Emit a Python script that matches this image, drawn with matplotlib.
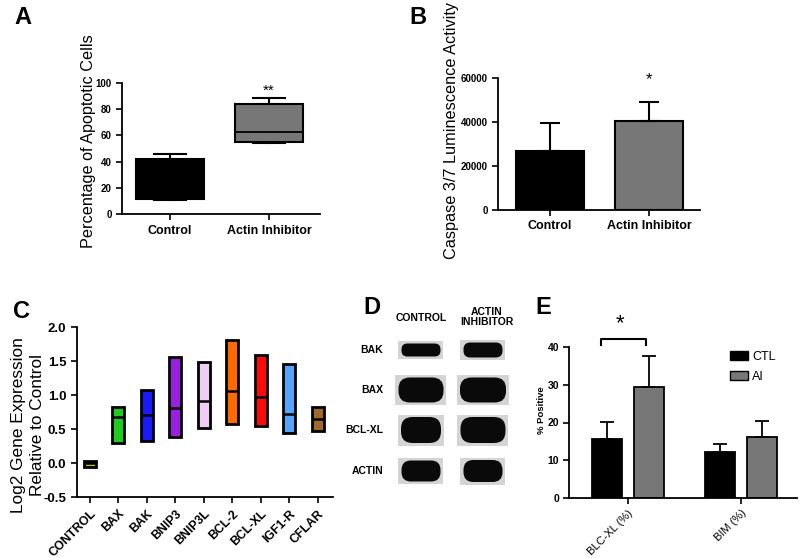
import matplotlib
matplotlib.use("Agg")
import matplotlib.pyplot as plt
from matplotlib.patches import Rectangle, FancyBboxPatch, Patch
import numpy as np

plt.rcParams['font.family'] = ['Liberation Sans', 'DejaVu Sans']

# ---------------- Data ----------------
# Panel A: box plot (percentage apoptotic cells)
a_groups = ["Control", "Actin Inhibitor"]
a_whislo = [10.8, 54.4]
a_q1 = [11.6, 55.2]
a_med = [20.0, 62.8]
a_q3 = [42.0, 83.6]
a_whishi = [45.6, 88.1]
a_colors = ["#000000", "#777777"]

# Panel B: caspase 3/7 activity
b_groups = ["Control", "Actin Inhibitor"]
b_means = [27000, 40700]
b_err = [12800, 8600]
b_colors = ["#000000", "#777777"]

# Panel C: floating bars (min, median, max)
c_genes = ["CONTROL", "BAX", "BAK", "BNIP3", "BNIP3L", "BCL-2", "BCL-XL", "IGF1-R", "CFLAR"]
c_min = [-0.05, 0.29, 0.33, 0.38, 0.51, 0.58, 0.55, 0.45, 0.47]
c_med = [0.00, 0.68, 0.71, 0.81, 0.91, 1.06, 0.97, 0.73, 0.65]
c_max = [0.04, 0.82, 1.08, 1.56, 1.49, 1.81, 1.59, 1.45, 0.82]
c_colors = ["#b8b435", "#1ecb1e", "#1a1aff", "#9a1fe0", "#f0cdf4",
            "#ff6a00", "#ff0a0a", "#55a5ff", "#a0692e"]

# Panel D: western blot band sizes (width, height in px) per protein row
d_proteins = ["BAK", "BAX", "BCL-XL", "ACTIN"]
d_lanes = ["CONTROL", "ACTIN\nINHIBITOR"]
d_ctl_w = [45, 51, 46, 45]
d_ctl_h = [18, 30, 31, 26]
d_ai_w = [45, 52, 51, 45]
d_ai_h = [20, 30, 31, 27]

# Panel E: % positive
e_groups = ["BLC-XL (%)", "BIM (%)"]
e_ctl = [15.5, 12.2]
e_ctl_err = [4.7, 2.1]
e_ai = [29.4, 16.1]
e_ai_err = [8.4, 4.4]

# ---------------- Figure ----------------
W, H = 800, 558
fig = plt.figure(figsize=(8, 5.58), dpi=100)

def fx(x):
    return x / W

def fy(y):
    return 1 - y / H

def add_ax(x0, y0, x1, y1):
    return fig.add_axes([fx(x0), fy(y1), (x1 - x0) / W, (y1 - y0) / H])

def style(ax, lw=1.3):
    for s in ["top", "right"]:
        ax.spines[s].set_visible(False)
    for s in ["left", "bottom"]:
        ax.spines[s].set_linewidth(lw)
    ax.tick_params(direction="out", length=4, width=1.2)

# ---- Panel A ----
axA = add_ax(122, 82.7, 320, 214.3)
stats = []
for i in range(len(a_groups)):
    stats.append(dict(med=a_med[i], q1=a_q1[i], q3=a_q3[i],
                      whislo=a_whislo[i], whishi=a_whishi[i], fliers=[]))
bp = axA.bxp(stats, positions=range(len(a_groups)), widths=0.68,
             capwidths=0.32, patch_artist=True, showfliers=False,
             boxprops=dict(linewidth=1.5, edgecolor="black"),
             medianprops=dict(color="black", linewidth=1.3),
             whiskerprops=dict(linewidth=1.5), capprops=dict(linewidth=1.5))
for patch, c in zip(bp["boxes"], a_colors):
    patch.set_facecolor(c)
axA.set_xlim(-0.485, 1.515)
axA.set_ylim(0, 100)
axA.set_yticks([0, 20, 40, 60, 80, 100])
axA.set_xticks(range(len(a_groups)))
axA.set_xticklabels(a_groups, fontsize=9, fontweight="bold")
for t in axA.get_yticklabels():
    t.set_fontsize(7); t.set_fontweight("bold")
style(axA)
axA.text(1, 94, "**", ha="center", va="center", fontsize=11, clip_on=False)
fig.text(fx(89), fy(141), "Percentage of Apoptotic Cells", rotation=90,
         ha="center", va="center", fontsize=11.7)

# ---- Panel B ----
axB = add_ax(498, 78.3, 700, 210)
xb = np.arange(len(b_groups))
axB.bar(xb, b_means, width=0.68, color=b_colors, edgecolor="black", linewidth=1.5,
        yerr=[[0, 0], b_err], error_kw=dict(capsize=7.5, elinewidth=1.5,
                                           capthick=1.5, ecolor="black"))
axB.set_xlim(-0.525, 1.515)
axB.set_ylim(0, 60000)
axB.set_yticks([0, 20000, 40000, 60000])
axB.set_xticks(xb)
axB.set_xticklabels(b_groups, fontsize=9, fontweight="bold")
for t in axB.get_yticklabels():
    t.set_fontsize(7); t.set_fontweight("bold")
style(axB)
axB.text(1, 59300, "*", ha="center", va="center", fontsize=12, clip_on=False)
fig.text(fx(452), fy(131), "Caspase 3/7 Luminescence Activity", rotation=90,
         ha="center", va="center", fontsize=11.7)

# ---- Panel C ----
axC = add_ax(76.7, 327, 333, 497.3)
xc = np.arange(len(c_genes))
c_min_a = np.array(c_min); c_max_a = np.array(c_max)
axC.bar(xc, c_max_a - c_min_a, bottom=c_min_a, width=0.42, color=c_colors,
        edgecolor="black", linewidth=2)
axC.hlines(c_med, xc - 0.21, xc + 0.21, colors="black", linewidth=1.8)
axC.set_xlim(-0.46, 8.53)
axC.set_ylim(-0.5, 2.0)
axC.set_yticks([-0.5, 0.0, 0.5, 1.0, 1.5, 2.0])
axC.set_yticklabels(["-0.5", "0.0", "0.5", "1.0", "1.5", "2.0"],
                    fontsize=9.5, fontweight="bold")
axC.set_xticks(xc)
axC.set_xticklabels(c_genes, fontsize=8.8, fontweight="bold", rotation=45,
                    ha="right", rotation_mode="anchor")
style(axC)
fig.text(fx(28), fy(425), "Log2 Gene Expression\nRelative to Control",
         rotation=90, ha="center", va="center", fontsize=12.4, linespacing=1.3)

# ---- Panel D ----
axD = add_ax(340, 295, 520, 495)
axD.set_xlim(340, 520)
axD.set_ylim(495, 295)
axD.axis("off")
lane_x = [421, 483]
row_y = [350, 390, 430, 471]
for li, (ws, hs) in enumerate([(d_ctl_w, d_ctl_h), (d_ai_w, d_ai_h)]):
    for ri in range(len(d_proteins)):
        w, h = ws[ri], hs[ri]
        cx, cy = lane_x[li], row_y[ri]
        axD.add_patch(Rectangle((cx - w / 2, cy - h / 2), w, h,
                                facecolor="#d4d4d4", edgecolor="none"))
        bw, bh = w - 6, h - 5
        r = bh * 0.45
        axD.add_patch(FancyBboxPatch((cx - bw / 2 + r, cy - bh / 2 + r),
                                     bw - 2 * r, bh - 2 * r,
                                     boxstyle=f"round,pad={r}",
                                     facecolor="#0a0a0a", edgecolor="none"))
for ri, p in enumerate(d_proteins):
    axD.text(383, row_y[ri], p, ha="right", va="center", fontsize=7.5,
             fontweight="bold")
axD.text(lane_x[0], 318, d_lanes[0], ha="center", va="center", fontsize=7.5,
         fontweight="bold")
axD.text(lane_x[1] + 4, 317, d_lanes[1], ha="center", va="center", fontsize=7.5,
         fontweight="bold", linespacing=1.05)

# ---- Panel E ----
axE = add_ax(569.3, 347.3, 797, 497.7)
xe = np.arange(len(e_groups))
bw_e = 0.265
off = 0.186
axE.bar(xe - off, e_ctl, width=bw_e, color="black", edgecolor="black",
        linewidth=1.3, yerr=[[0, 0], e_ctl_err],
        error_kw=dict(capsize=5, elinewidth=1.3, capthick=1.3), label="CTL")
axE.bar(xe + off, e_ai, width=bw_e, color="#777777", edgecolor="black",
        linewidth=1.3, yerr=[[0, 0], e_ai_err],
        error_kw=dict(capsize=5, elinewidth=1.3, capthick=1.3), label="AI")
axE.set_xlim(-0.517, 1.498)
axE.set_ylim(0, 40)
axE.set_yticks([0, 10, 20, 30, 40])
for t in axE.get_yticklabels():
    t.set_fontsize(7.5); t.set_fontweight("bold")
axE.set_xticks(xe)
axE.set_xticklabels(e_groups, fontsize=8, rotation=45, ha="right",
                    rotation_mode="anchor")
style(axE)
# significance bracket
yb = 42.2
axE.plot([-off - 0.05, -off - 0.05, off - 0.02, off - 0.02],
         [40.6, yb, yb, 40.6], color="black", lw=1.5, clip_on=False)
axE.text(-0.07, 46.3, "*", ha="center", va="center", fontsize=16,
         clip_on=False)
axE.legend(handles=[Patch(facecolor="black", edgecolor="black", label="CTL"),
                    Patch(facecolor="#777777", edgecolor="black", label="AI")],
           loc="upper left", bbox_to_anchor=(0.706, 0.975), frameon=False,
           fontsize=9, handlelength=1.44, handleheight=0.72,
           handletextpad=0.35, labelspacing=0.65, borderpad=0,
           borderaxespad=0)
fig.text(fx(542), fy(410), "% Positive", rotation=90, ha="center",
         va="center", fontsize=6.8, fontweight="bold")

# Panel letters
for lab, (x, y) in {"A": (23, 17), "B": (418, 17), "C": (22, 311),
                    "D": (372, 308), "E": (543, 308)}.items():
    fig.text(fx(x), fy(y), lab, ha="center", va="center", fontsize=17,
             fontweight="bold")

fig.savefig("out.png", dpi=100)
